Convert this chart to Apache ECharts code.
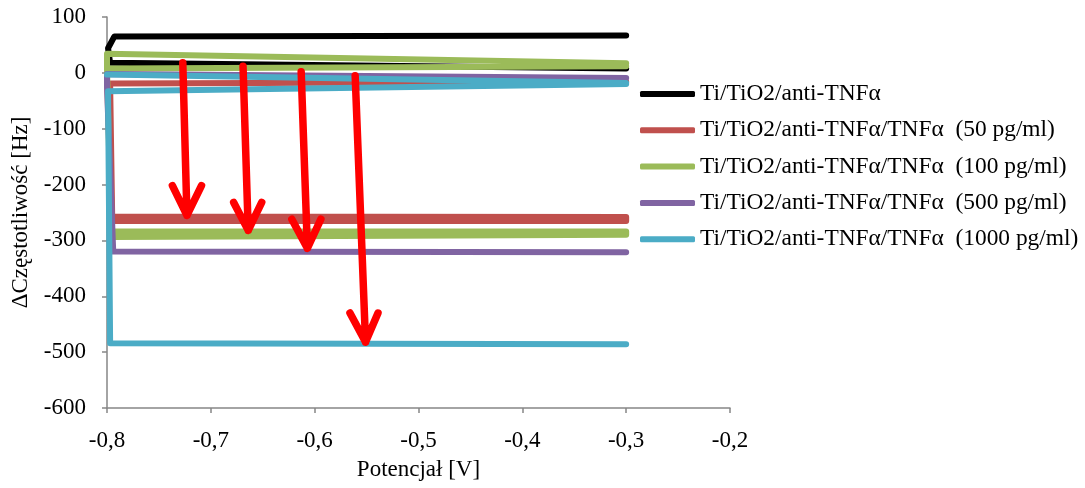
<!DOCTYPE html>
<html>
<head>
<meta charset="utf-8">
<script src="https://cdn.jsdelivr.net/npm/echarts@6/dist/echarts.min.js"></script>
<style>
  html, body { margin: 0; padding: 0; background: #fff; }
  #chart { width: 1085px; height: 488px; }
</style>
</head>
<body>
<div id="chart"></div>
<script>
// series names (legend)
const names = [
  'Ti/TiO2/anti-TNFα',
  'Ti/TiO2/anti-TNFα/TNFα  (50 pg/ml)',
  'Ti/TiO2/anti-TNFα/TNFα  (100 pg/ml)',
  'Ti/TiO2/anti-TNFα/TNFα  (500 pg/ml)',
  'Ti/TiO2/anti-TNFα/TNFα  (1000 pg/ml)'
]
const colors = ['#000000', '#C0504D', '#9BBB59', '#8064A2', '#4BACC6']

// potential [V] / frequency shift [Hz]; null = break in the trace
const blackX = [-0.3, -0.797, -0.799, -0.793, -0.3]
const blackY = [8, 18, 44, 65, 67]

const redX = [-0.3, -0.797, -0.795, -0.3, -0.3, -0.795]
const redY = [-16, -19, -257, -258, -265, -265]

const greenX = [-0.3, -0.8, -0.8, -0.3, null, -0.8, -0.796, -0.3, -0.3, -0.796]
const greenY = [17, 34, 8, 12, null, 6, -284, -284, -290, -294]

const purpleX = [-0.3, -0.8, -0.8, -0.794, -0.3]
const purpleY = [-9, -2, -25, -320, -321]

const cyanX = [-0.3, -0.8, null, -0.3, -0.799, -0.797, -0.3]
const cyanY = [-18, -3, null, -20, -33, -484, -486]

// red annotation arrows: shaft, then the two head strokes
const arrowX = [
  -0.727, -0.723, null, -0.737, -0.723, -0.709, null,
  -0.669, -0.664, null, -0.678, -0.664, -0.651, null,
  -0.613, -0.607, null, -0.622, -0.607, -0.594, null,
  -0.561, -0.551, null, -0.566, -0.551, -0.539
]
const arrowY = [
  18, -255, null, -202, -255, -202, null,
  12, -282, null, -232, -282, -232, null,
  2, -314, null, -262, -314, -262, null,
  -5, -482, null, -430, -482, -430
]

const xTicks = { min: -0.8, max: -0.2, step: 0.1 }
const yTicks = { min: -600, max: 100, step: 100 }

function pairs (xs, ys) {
  return xs.map((x, i) => x === null ? ['-', '-'] : [x, ys[i]])
}

const font = 'Liberation Serif'
const fs = 23
const allX = [blackX, redX, greenX, purpleX, cyanX]
const allY = [blackY, redY, greenY, purpleY, cyanY]

var series = names.map((n, i) => ({
  name: n,
  type: 'line',
  data: pairs(allX[i], allY[i]),
  showSymbol: false,
  symbol: 'none',
  connectNulls: false,
  color: colors[i],
  lineStyle: { color: colors[i], width: 6, cap: 'round', join: 'round' },
  z: 2 + i
}))
series.push({
  name: 'arrows',
  type: 'line',
  data: pairs(arrowX, arrowY),
  showSymbol: false,
  symbol: 'none',
  connectNulls: false,
  lineStyle: { color: '#FF0000', width: 7.5, cap: 'round', join: 'round' },
  z: 10
})

const chart = echarts.init(document.getElementById('chart'))
chart.setOption({
  animation: false,
  grid: { left: 107, right: 355, top: 17, bottom: 80 },
  legend: {
    data: names,
    orient: 'vertical',
    left: 635,
    top: 77,
    icon: 'roundRect',
    itemWidth: 55,
    itemHeight: 6,
    itemGap: 12.3,
    textStyle: { fontFamily: font, fontSize: 23.4, color: '#000', lineHeight: 24 }
  },
  xAxis: {
    type: 'value',
    min: xTicks.min,
    max: xTicks.max,
    interval: xTicks.step,
    name: 'Potencjał [V]',
    nameLocation: 'middle',
    nameGap: 50,
    nameTextStyle: { fontFamily: font, fontSize: fs, color: '#000' },
    axisLine: { onZero: false, lineStyle: { color: '#868686', width: 1.5 } },
    axisTick: { show: true, length: 5, lineStyle: { color: '#868686', width: 1.5 } },
    axisLabel: {
      margin: 21,
      fontFamily: font,
      fontSize: fs,
      color: '#000',
      formatter: v => v.toFixed(1).replace('.', ',')
    },
    splitLine: { show: false }
  },
  yAxis: {
    type: 'value',
    min: yTicks.min,
    max: yTicks.max,
    interval: yTicks.step,
    name: 'ΔCzęstotliwość [Hz]',
    nameLocation: 'middle',
    nameGap: 74,
    nameTextStyle: { fontFamily: font, fontSize: fs, color: '#000' },
    axisLine: { show: true, onZero: false, lineStyle: { color: '#868686', width: 1.5 } },
    axisTick: { show: true, length: 5, lineStyle: { color: '#868686', width: 1.5 } },
    axisLabel: { margin: 21, fontFamily: font, fontSize: fs, color: '#000' },
    splitLine: { show: false }
  },
  series: series
})
</script>
</body>
</html>
